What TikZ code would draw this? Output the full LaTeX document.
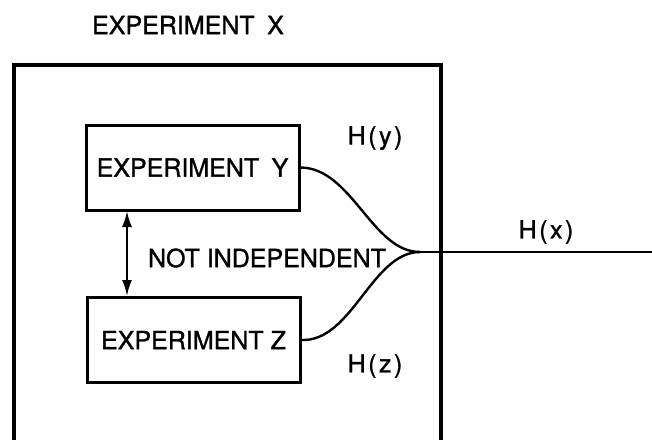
\documentclass[tikz,border=0pt]{standalone}
\usepackage{fontspec}
\setmainfont[FakeBold=1.2,AutoFakeBold=1.2]{TeX Gyre Heros}
\newfontfamily\plainfont[FakeBold=1.2]{TeX Gyre Heros}
\newfontfamily\spacedfont[LetterSpace=10,FakeBold=1.2]{TeX Gyre Heros}
\usetikzlibrary{arrows.meta}
\begin{document}
\begin{tikzpicture}[x=1pt,y=-1pt,
  lbl/.style={inner sep=0pt,font=\fontsize{25}{25}\plainfont},
  hlbl/.style={inner sep=0pt,font=\fontsize{25}{25}\spacedfont},
  expbox/.style={draw,line width=3pt,minimum width=213pt,minimum height=85pt,
                 inner sep=0pt,font=\fontsize{25}{25}\plainfont},
  frame/.style={line width=3.2pt},
  flow/.style={line width=2.4pt},
  dep/.style={line width=2.2pt,{Latex[length=16pt,width=10pt]}-{Latex[length=16pt,width=10pt]}}]
  \useasboundingbox (0,0) rectangle (652,439);

  % outer experiment, open at the bottom edge
  \coordinate (fbl) at (14,445);
  \coordinate (ftl) at (14,65);
  \coordinate (ftr) at (441,65);
  \coordinate (fbr) at (441,445);
  \draw[frame] (fbl) -- (ftl) -- (ftr) -- (fbr);
  \node[lbl] (title) at (188,25) {EXPERIMENT\hspace{0.5em}X};

  % sub-experiments
  \node[expbox] (Y) at (192.5,167.5) {EXPERIMENT\hspace{0.5em}Y};
  \node[expbox] (Z) at (193.5,340) {EXPERIMENT Z};

  % dependence between them
  \coordinate (dtop) at (127,211);
  \coordinate (dbot) at (127,296);
  \draw[dep] (dtop) -- (dbot);
  \node[lbl] (notind) at (267,258) {NOT INDEPENDENT};

  % information flows merging into H(x)
  \coordinate (merge) at (420,252);
  \coordinate (outend) at (652,252);
  \draw[flow] (Y.east) .. controls (352,168) and (372,252) .. (merge);
  \draw[flow] (Z.east) .. controls (352,342) and (372,252) .. (merge);
  \draw[flow] (merge) -- (outend);

  \node[hlbl] (hy) at (375,138) {H(y)};
  \node[hlbl] (hz) at (375,366) {H(z)};
  \node[hlbl] (hx) at (546,232) {H(x)};
\end{tikzpicture}
\end{document}
